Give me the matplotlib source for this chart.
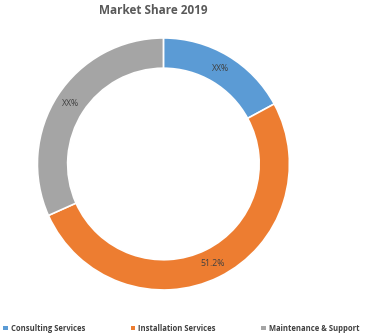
import matplotlib.pyplot as plt
from matplotlib.patches import Patch

# данные
categories = ['Consulting Services', 'Installation Services', 'Maintenance & Support']
shares = [17.1, 51.2, 31.7]
value_labels = ['XX%', '51.2%', 'XX%']
colors = ['#5B9BD5', '#ED7D31', '#A5A5A5']

plt.rcParams['font.family'] = ['Open Sans', 'DejaVu Sans']

fig = plt.figure(figsize=(3.66, 3.36), dpi=100)
ax = fig.add_axes([0.102, 0.137, 0.689, 0.75])

lbl_iter = iter(value_labels)
wedges, texts, autotexts = ax.pie(
    shares, colors=colors, startangle=90, counterclock=False,
    radius=1.0, pctdistance=0.88,
    autopct=lambda p: next(lbl_iter),
    wedgeprops=dict(width=0.24, edgecolor='white', linewidth=1.2),
    textprops=dict(fontsize=6.3, color='#404040'))
ax.set_aspect('equal')
ax.set_xlim(-1, 1)
ax.set_ylim(-1, 1)

fig.text(0.418, 0.988, 'Market Share 2019', ha='center', va='top',
         fontsize=8.5, fontweight='bold', color='#595959')

handles = [Patch(facecolor=c, edgecolor='none') for c in colors]
fig.legend(handles, categories, loc='lower left', bbox_to_anchor=(0.0, 0.0),
           ncol=3, frameon=False, handlelength=0.55, handleheight=0.55,
           handletextpad=0.4, columnspacing=6.0, borderaxespad=0.05,
           prop=dict(weight='bold', size=5.5))
for t in fig.legends[0].get_texts():
    t.set_color('#404040')

fig.savefig('out.png', dpi=100)
